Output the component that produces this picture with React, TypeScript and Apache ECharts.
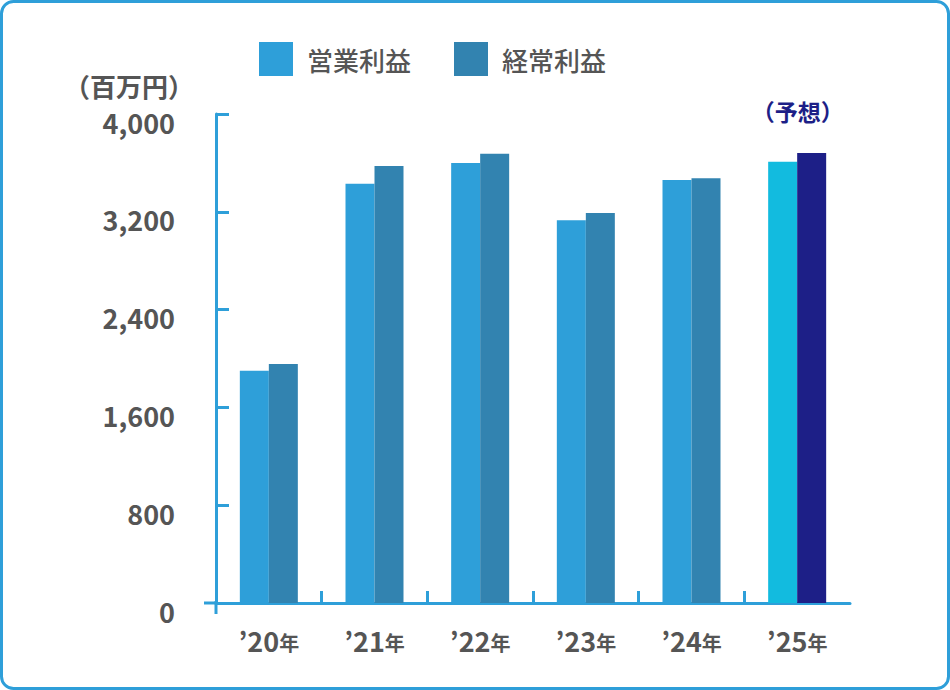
import React, { useEffect, useRef } from "react";
import * as echarts from "echarts";

const categories = ["’20", "’21", "’22", "’23", "’24", "’25"];
const operatingProfit = [1900, 3430, 3600, 3130, 3460, 3610];
const ordinaryProfit = [1955, 3575, 3675, 3190, 3475, 3680];
const seriesNames = ["営業利益", "経常利益"];
const yTicks = { min: 0, max: 4000, interval: 800 };
const forecastLabel = "（予想）";
const unitLabel = "（百万円）";

const BLUE = "#2e9fd9";
const DARK = "#3283b0";
const F_OP = "#12bbdf";
const F_ORD = "#1d1f87";
const TEXT = "#555555";
const FONT = "'Noto Sans CJK JP', 'Noto Sans', sans-serif";

export default function App() {
  const ref = useRef<HTMLDivElement>(null);
  useEffect(() => {
    if (!ref.current) return;
    const chart = echarts.init(ref.current, null, { renderer: "svg" });
    const last = categories.length - 1;
    chart.setOption({
      animation: false,
      backgroundColor: "#ffffff",
      textStyle: { fontFamily: FONT },
      graphic: [
        {
          type: "rect",
          z: -10,
          shape: { x: 1.5, y: 1.5, width: 947, height: 687, r: 12 },
          style: { fill: "#ffffff", stroke: BLUE, lineWidth: 3 },
          silent: true,
        },
        {
          type: "line",
          shape: { x1: 204, y1: 603, x2: 217, y2: 603 },
          style: { stroke: BLUE, lineWidth: 3 },
          z: 10,
        },
        {
          type: "line",
          shape: { x1: 216, y1: 601, x2: 216, y2: 614 },
          style: { stroke: BLUE, lineWidth: 3 },
          z: 10,
        },
      ],
      legend: {
        data: seriesNames,
        left: 259,
        top: 42,
        padding: 0,
        icon: "rect",
        itemWidth: 34,
        itemHeight: 34,
        itemGap: 43,
        textStyle: {
          fontSize: 26,
          color: TEXT,
          fontFamily: FONT,
          fontWeight: 500,
          padding: [0, 0, 0, 9],
        },
      },
      grid: { left: 216, right: 100, top: 114, bottom: 87, containLabel: false },
      xAxis: [
        {
          type: "category",
          data: categories,
          axisLine: { show: true, lineStyle: { color: BLUE, width: 3 } },
          axisTick: { show: false },
          axisLabel: {
            margin: 24,
            formatter: (v: string) => `{n|${v}}{y|年}`,
            rich: {
              n: { fontSize: 27, fontWeight: "bold", color: TEXT, fontFamily: FONT },
              y: { fontSize: 20, fontWeight: "bold", color: TEXT, fontFamily: FONT, padding: [4, 0, 0, 0] },
            },
          },
          splitLine: { show: false },
        },
        {
          type: "category",
          position: "bottom",
          data: ["", "", "", "", "", "", ""],
          boundaryGap: false,
          axisLine: { show: false },
          axisLabel: { show: false },
          axisTick: {
            show: true,
            inside: true,
            length: 12,
            interval: (i: number) => i > 0 && i < 6,
            lineStyle: { color: BLUE, width: 3 },
          },
          splitLine: { show: false },
        },
      ],
      yAxis: {
        type: "value",
        min: yTicks.min,
        max: yTicks.max,
        interval: yTicks.interval,
        name: unitLabel,
        nameLocation: "end",
        nameGap: 16,
        nameTextStyle: {
          align: "right",
          padding: [0, 22, 0, 0],
          fontSize: 26,
          fontWeight: "bold",
          color: TEXT,
          fontFamily: FONT,
        },
        axisLine: { show: true, lineStyle: { color: BLUE, width: 3 } },
        axisTick: { show: true, inside: true, length: 13, lineStyle: { color: BLUE, width: 3 } },
        splitLine: { show: false },
        axisLabel: {
          margin: 41,
          formatter: (v: number) => `{v|${v.toLocaleString("en-US")}}`,
          rich: {
            v: {
              fontSize: 27,
              fontWeight: "bold",
              color: TEXT,
              fontFamily: FONT,
              padding: [16, 0, 0, 0],
            },
          },
        },
      },
      series: [
        {
          name: seriesNames[0],
          type: "bar",
          xAxisIndex: 0,
          barWidth: 29,
          barGap: "0%",
          itemStyle: { color: BLUE },
          data: operatingProfit.map((v, i) =>
            i === last ? { value: v, itemStyle: { color: F_OP } } : v
          ),
        },
        {
          name: seriesNames[1],
          type: "bar",
          xAxisIndex: 0,
          barWidth: 29,
          barGap: "0%",
          itemStyle: { color: DARK },
          data: ordinaryProfit.map((v, i) =>
            i === last
              ? {
                  value: v,
                  itemStyle: { color: F_ORD },
                  label: {
                    show: true,
                    position: "top",
                    formatter: forecastLabel,
                    offset: [-14, -26],
                    fontSize: 23,
                    fontWeight: "bold",
                    color: F_ORD,
                    fontFamily: FONT,
                  },
                }
              : v
          ),
        },
      ],
    });
    return () => chart.dispose();
  }, []);
  return (
    <div
      ref={ref}
      style={{ position: "fixed", left: 0, top: 0, width: 950, height: 690 }}
    />
  );
}
